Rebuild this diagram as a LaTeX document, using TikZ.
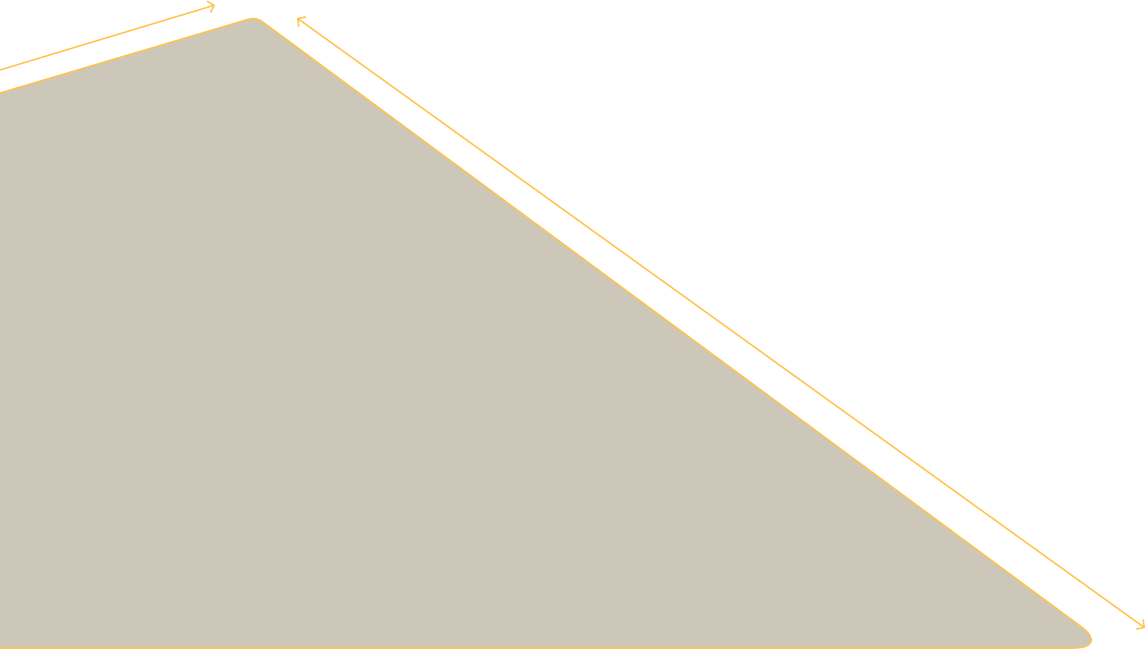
\documentclass[tikz,border=0pt]{standalone}
\usetikzlibrary{arrows.meta}
\definecolor{sand}{RGB}{204,199,185}
\definecolor{gold}{RGB}{255,196,77}
\tikzset{
  edgeline/.style={draw=gold, line width=1.5pt},
  dimarrow/.style={gold, line width=1.5pt, {Straight Barb[length=5.5pt,width=12pt]}-{Straight Barb[length=5.5pt,width=12pt]}},
  onearrow/.style={gold, line width=1.5pt, -{Straight Barb[length=5.5pt,width=12pt]}}
}
\begin{document}
\begin{tikzpicture}[x=1pt,y=-1pt]
\useasboundingbox (0,0) rectangle (1147,650);
\clip (0,0) rectangle (1147,650);
% shape
\coordinate (L) at (-10,96);
\coordinate (T) at (256,17);
\coordinate (R) at (1110,648);
\coordinate (B) at (-10,648);
\path[fill=sand, edgeline] (L) [rounded corners=7pt] -- (T) [rounded corners=36pt] -- (R) [sharp corners] -- (B) -- cycle;
% arrows
\coordinate (a1s) at (-10,73);
\coordinate (a1e) at (215,5);
\draw[onearrow] (a1s) -- (a1e);
\coordinate (a2s) at (297,18);
\coordinate (a2e) at (1145,628);
\draw[dimarrow] (a2s) -- (a2e);
\end{tikzpicture}
\end{document}
